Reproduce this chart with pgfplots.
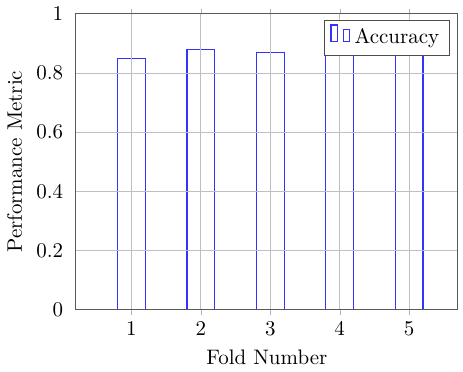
\documentclass[border=0pt]{standalone}
\usepackage{pgfplots}
\pgfplotsset{compat=1.18}
\begin{document}
\begin{tikzpicture}
\begin{axis}[
  scale only axis,
  width=182pt, height=141pt,
  ybar,
  bar width=0.4,
  xmin=0.2, xmax=5.7,
  ymin=0, ymax=1,
  xtick={1,2,3,4,5},
  ytick={0,0.2,0.4,0.6,0.8,1},
  grid=major,
  axis on top,
  axis line style={black!65},
  tick align=outside,
  major tick length=2.5pt,
  xtick style={black!30},
  ytick style={draw=none},
  xlabel={Fold Number},
  ylabel={Performance Metric},
  legend style={at={(0.98,0.98)},anchor=north east, draw=black!70},
]
\addplot[draw=blue!80, fill=none, semithick] coordinates {(1,0.85) (2,0.88) (3,0.87) (4,0.89) (5,0.86)};
\legend{Accuracy}
\end{axis}
\end{tikzpicture}
\end{document}
